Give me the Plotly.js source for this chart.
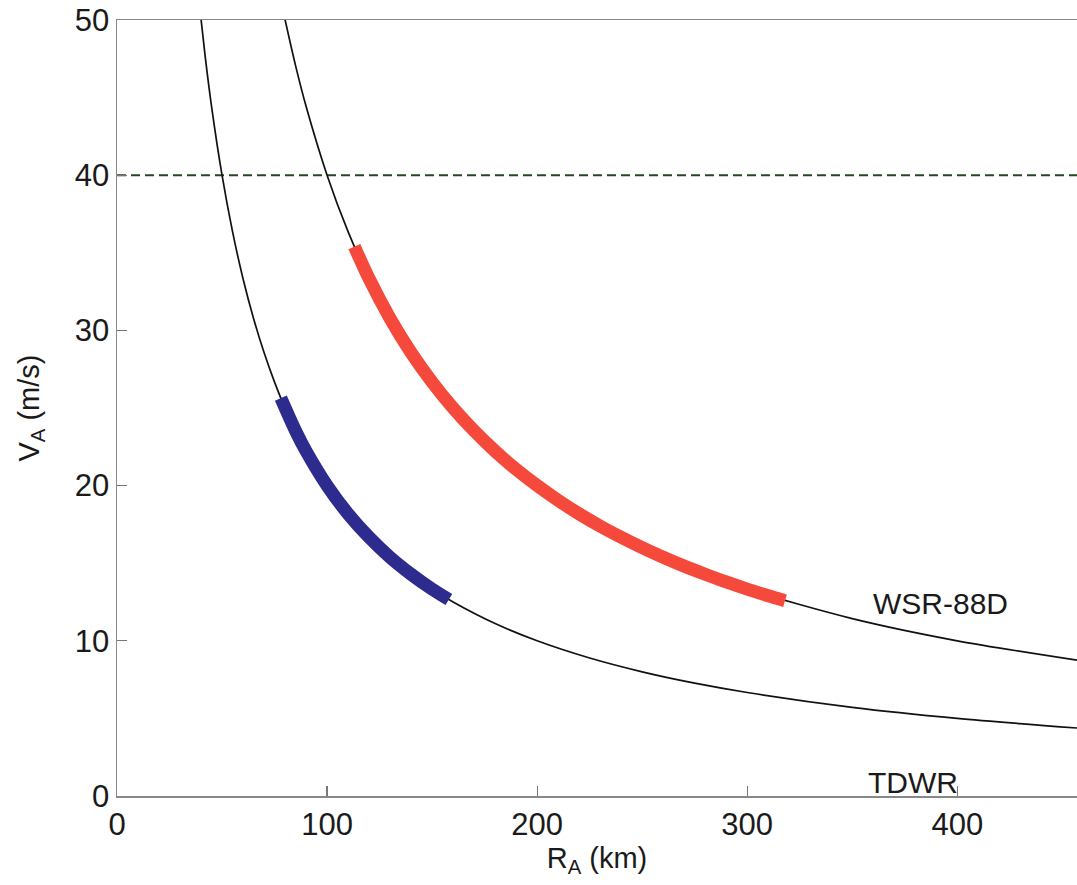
<!DOCTYPE html>
<html>
<head>
<meta charset="utf-8">
<script src="https://cdn.plot.ly/plotly-3.0.1.min.js"></script>
<style>html,body{margin:0;padding:0;background:#fff;}#chart{width:1077px;height:885px;}</style>
</head>
<body>
<div id="chart"></div>
<script>
// Values
const tdwrR = [39, 42, 45, 50, 55, 60, 65, 70, 75, 80, 90, 100, 110, 120, 130, 140, 150, 160, 180, 200, 225, 250, 275, 300, 350, 400, 457];
const tdwrV = [51.28, 47.62, 44.44, 40, 36.36, 33.33, 30.77, 28.57, 26.67, 25, 22.22, 20, 18.18, 16.67, 15.38, 14.29, 13.33, 12.5, 11.11, 10, 8.89, 8, 7.27, 6.67, 5.71, 5, 4.38];

const wsrR = [79, 85, 90, 100, 110, 120, 130, 140, 150, 160, 180, 200, 225, 250, 275, 300, 350, 400, 457];
const wsrV = [50.63, 47.06, 44.44, 40, 36.36, 33.33, 30.77, 28.57, 26.67, 25, 22.22, 20, 17.78, 16, 14.55, 13.33, 11.43, 10, 8.75];

const blueR = [78, 85, 90, 100, 110, 120, 130, 140, 150, 158];
const blueV = [25.64, 23.53, 22.22, 20, 18.18, 16.67, 15.38, 14.29, 13.33, 12.66];

const redR = [113, 120, 130, 140, 150, 160, 170, 180, 190, 200, 210, 220, 230, 240, 250, 260, 270, 280, 290, 300, 310, 318];
const redV = [35.40, 33.33, 30.77, 28.57, 26.67, 25, 23.53, 22.22, 21.05, 20, 19.05, 18.18, 17.39, 16.67, 16, 15.38, 14.81, 14.29, 13.79, 13.33, 12.90, 12.58];

const thresholdV = 40;
const xRange = [0, 457];
const yRange = [0, 50];
const xTicks = [0, 100, 200, 300, 400];
const yTicks = [0, 10, 20, 30, 40, 50];

const labels = [
  {text: 'WSR-88D', x: 392, y: 12.4},
  {text: 'TDWR', x: 379, y: 0.9}
];

const traces = [
  {x: xRange, y: [thresholdV, thresholdV], mode: 'lines', line: {color: '#24481f', width: 2, dash: '9px,5px'}, hoverinfo: 'skip'},
  {x: tdwrR, y: tdwrV, mode: 'lines', line: {color: '#111', width: 1.7, shape: 'spline', smoothing: 0.8}},
  {x: wsrR, y: wsrV, mode: 'lines', line: {color: '#111', width: 1.7, shape: 'spline', smoothing: 0.8}},
  {x: blueR, y: blueV, mode: 'lines', line: {color: '#2e2b8e', width: 13, shape: 'spline', smoothing: 0.8}},
  {x: redR, y: redV, mode: 'lines', line: {color: '#f5493b', width: 13, shape: 'spline', smoothing: 0.8}}
];

const fontFam = 'Liberation Sans, Arial, sans-serif';
const layout = {
  width: 1077, height: 885,
  margin: {l: 117, r: 0, t: 20, b: 89},
  paper_bgcolor: '#fff', plot_bgcolor: '#fff',
  showlegend: false,
  font: {family: fontFam, color: '#1a1a1a', size: 30},
  xaxis: {
    range: xRange, tickvals: xTicks, ticktext: xTicks.map(String),
    ticks: 'inside', ticklen: 10, tickcolor: '#777', tickwidth: 1.2,
    showline: true, linecolor: '#888', linewidth: 1.5, mirror: true,
    showgrid: false, zeroline: false,
    tickfont: {size: 31, family: fontFam, color: '#1a1a1a'},
    title: {text: 'R<sub>A</sub> (km)', font: {size: 29, family: fontFam, color: '#1a1a1a'}, standoff: 0}
  },
  yaxis: {
    range: yRange, tickvals: yTicks, ticktext: yTicks.map(String),
    ticks: 'inside', ticklen: 10, tickcolor: '#777', tickwidth: 1.2,
    showline: true, linecolor: '#888', linewidth: 1.5, mirror: true,
    showgrid: false, zeroline: false,
    tickfont: {size: 31, family: fontFam, color: '#1a1a1a'},
    title: {text: 'V<sub>A</sub> (m/s)', font: {size: 29, family: fontFam, color: '#1a1a1a'}, standoff: 26}
  },
  annotations: labels.map(l => ({
    text: l.text, x: l.x, y: l.y, xref: 'x', yref: 'y',
    showarrow: false, xanchor: 'center', yanchor: 'middle',
    font: {size: 30, family: fontFam, color: '#1a1a1a'}
  }))
};

Plotly.newPlot('chart', traces, layout, {displayModeBar: false, staticPlot: true});
</script>
</body>
</html>
